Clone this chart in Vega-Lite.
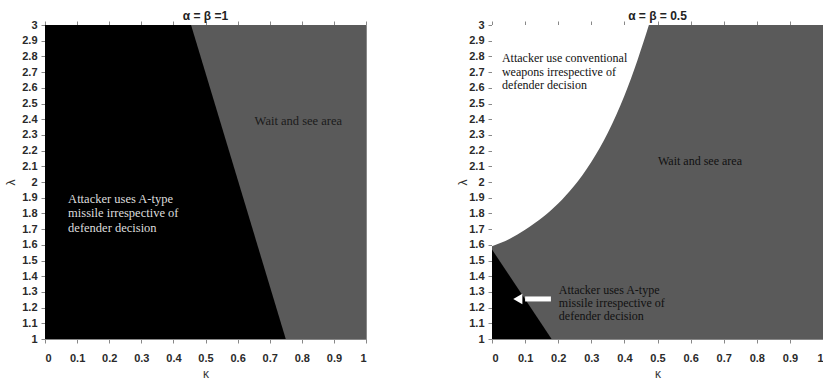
{
  "$schema": "https://vega.github.io/schema/vega-lite/v6.json",
  "background": "white",
  "padding": {"left": 4, "top": 9, "right": 0, "bottom": 0},
  "spacing": 89,
  "config": {
    "view": {"stroke": "#888", "strokeWidth": 1},
    "axis": {"labelFont": "Liberation Sans", "labelFontSize": 11, "labelFontWeight": "bold", "labelColor": "#2a2a2a", "titleFont": "Liberation Sans", "titleFontSize": 12, "titleFontWeight": "normal", "titleColor": "#333", "tickColor": "#888", "domainColor": "#888", "tickSize": 4, "grid": false, "format": "~g"},
    "title": {"font": "Liberation Sans", "fontSize": 12, "fontWeight": "bold", "color": "#222", "offset": -4}
  },
  "datasets": {
    "frame": [{"k0": 0, "k1": 1, "l0": 1, "l1": 3}],
    "leftBlack": [
      {"k": 0, "top": 3, "bot": 1},
      {"k": 0.455, "top": 3, "bot": 1},
      {"k": 0.75, "top": 1, "bot": 1}
    ],
    "rightWhite": [
      {"k": 0, "low": 1.59, "high": 3},
      {"k": 0.054, "low": 1.638, "high": 3},
      {"k": 0.1, "low": 1.696, "high": 3},
      {"k": 0.155, "low": 1.778, "high": 3},
      {"k": 0.2, "low": 1.863, "high": 3},
      {"k": 0.246, "low": 1.97, "high": 3},
      {"k": 0.3, "low": 2.128, "high": 3},
      {"k": 0.35, "low": 2.314, "high": 3},
      {"k": 0.4, "low": 2.549, "high": 3},
      {"k": 0.44, "low": 2.779, "high": 3},
      {"k": 0.474, "low": 3, "high": 3}
    ],
    "rightBlack": [
      {"k": 0, "top": 1.57, "bot": 1},
      {"k": 0.18, "top": 1, "bot": 1}
    ],
    "leftText": [
      {"k": 0.072, "l": 1.892, "t": "Attacker uses A-type", "c": "light"},
      {"k": 0.072, "l": 1.803, "t": "missile irrespective of", "c": "light"},
      {"k": 0.072, "l": 1.707, "t": "defender decision", "c": "light"},
      {"k": 0.653, "l": 2.39, "t": "Wait and see area", "c": "dark"}
    ],
    "rightText": [
      {"k": 0.03, "l": 2.788, "t": "Attacker use conventional"},
      {"k": 0.03, "l": 2.699, "t": "weapons irrespective of"},
      {"k": 0.03, "l": 2.618, "t": "defender decision"},
      {"k": 0.5015, "l": 2.134, "t": "Wait and see area"},
      {"k": 0.202, "l": 1.312, "t": "Attacker uses A-type"},
      {"k": 0.202, "l": 1.231, "t": "missile irrespective of"},
      {"k": 0.202, "l": 1.146, "t": "defender decision"}
    ],
    "arrow": [{"k0": 0.1, "k1": 0.178, "kh": 0.078, "l": 1.255}]
  },
  "hconcat": [
    {
      "width": 321,
      "height": 314,
      "title": "α = β =1",
      "resolve": {"axis": {"x": "independent", "y": "independent"}},
      "layer": [
        {
          "data": {"name": "frame"},
          "mark": {"type": "rect", "color": "#5a5a5a"},
          "encoding": {
            "x": {"field": "k0", "type": "quantitative", "scale": {"domain": [0, 1], "nice": false, "zero": false}, "axis": {"title": "κ", "values": [0, 0.1, 0.2, 0.3, 0.4, 0.5, 0.6, 0.7, 0.8, 0.9, 1], "labelPadding": 9, "titlePadding": 5}},
            "x2": {"field": "k1"},
            "y": {"field": "l0", "type": "quantitative", "scale": {"domain": [1, 3], "nice": false, "zero": false}, "axis": {"title": "λ", "values": [1, 1.1, 1.2, 1.3, 1.4, 1.5, 1.6, 1.7, 1.8, 1.9, 2, 2.1, 2.2, 2.3, 2.4, 2.5, 2.6, 2.7, 2.8, 2.9, 3], "labelPadding": 4, "titlePadding": 4}},
            "y2": {"field": "l1"}
          }
        },
        {
          "data": {"name": "frame"},
          "mark": {"type": "rect", "color": "#5a5a5a"},
          "encoding": {
            "x": {"field": "k0", "type": "quantitative", "axis": {"orient": "top", "title": null, "labels": false, "domain": false, "values": [0, 0.1, 0.2, 0.3, 0.4, 0.5, 0.6, 0.7, 0.8, 0.9, 1]}},
            "x2": {"field": "k1"},
            "y": {"field": "l0", "type": "quantitative", "axis": {"orient": "right", "title": null, "labels": false, "domain": false, "tickSize": -4, "values": [1, 1.1, 1.2, 1.3, 1.4, 1.5, 1.6, 1.7, 1.8, 1.9, 2, 2.1, 2.2, 2.3, 2.4, 2.5, 2.6, 2.7, 2.8, 2.9, 3]}},
            "y2": {"field": "l1"}
          }
        },
        {
          "data": {"name": "leftBlack"},
          "mark": {"type": "area", "color": "#000000", "orient": "vertical", "interpolate": "linear"},
          "encoding": {
            "x": {"field": "k", "type": "quantitative", "axis": null},
            "y": {"field": "top", "type": "quantitative", "axis": null},
            "y2": {"field": "bot"}
          }
        },
        {
          "data": {"name": "leftText"},
          "mark": {"type": "text", "font": "Liberation Serif", "fontSize": 12.5, "align": "left", "baseline": "middle"},
          "encoding": {
            "x": {"field": "k", "type": "quantitative", "axis": null},
            "y": {"field": "l", "type": "quantitative", "axis": null},
            "text": {"field": "t"},
            "color": {"field": "c", "type": "nominal", "scale": {"domain": ["light", "dark"], "range": ["#dddddd", "#1a1a1a"]}, "legend": null}
          }
        }
      ]
    },
    {
      "width": 331,
      "height": 314,
      "title": "α = β = 0.5",
      "resolve": {"axis": {"x": "independent", "y": "independent"}},
      "layer": [
        {
          "data": {"name": "frame"},
          "mark": {"type": "rect", "color": "#5a5a5a"},
          "encoding": {
            "x": {"field": "k0", "type": "quantitative", "scale": {"domain": [0, 1], "nice": false, "zero": false}, "axis": {"title": "κ", "values": [0, 0.1, 0.2, 0.3, 0.4, 0.5, 0.6, 0.7, 0.8, 0.9, 1], "labelPadding": 9, "titlePadding": 5}},
            "x2": {"field": "k1"},
            "y": {"field": "l0", "type": "quantitative", "scale": {"domain": [1, 3], "nice": false, "zero": false}, "axis": {"title": "λ", "values": [1, 1.1, 1.2, 1.3, 1.4, 1.5, 1.6, 1.7, 1.8, 1.9, 2, 2.1, 2.2, 2.3, 2.4, 2.5, 2.6, 2.7, 2.8, 2.9, 3], "labelPadding": 4, "titlePadding": -1}},
            "y2": {"field": "l1"}
          }
        },
        {
          "data": {"name": "frame"},
          "mark": {"type": "rect", "color": "#5a5a5a"},
          "encoding": {
            "x": {"field": "k0", "type": "quantitative", "axis": {"orient": "top", "title": null, "labels": false, "domain": false, "values": [0, 0.1, 0.2, 0.3, 0.4, 0.5, 0.6, 0.7, 0.8, 0.9, 1]}},
            "x2": {"field": "k1"},
            "y": {"field": "l0", "type": "quantitative", "axis": {"orient": "right", "title": null, "labels": false, "domain": false, "tickSize": -4, "values": [1, 1.1, 1.2, 1.3, 1.4, 1.5, 1.6, 1.7, 1.8, 1.9, 2, 2.1, 2.2, 2.3, 2.4, 2.5, 2.6, 2.7, 2.8, 2.9, 3]}},
            "y2": {"field": "l1"}
          }
        },
        {
          "data": {"name": "rightWhite"},
          "mark": {"type": "area", "color": "#ffffff", "orient": "vertical", "interpolate": "monotone"},
          "encoding": {
            "x": {"field": "k", "type": "quantitative", "axis": null},
            "y": {"field": "low", "type": "quantitative", "axis": null},
            "y2": {"field": "high"}
          }
        },
        {
          "data": {"name": "rightBlack"},
          "mark": {"type": "area", "color": "#000000", "orient": "vertical", "interpolate": "linear"},
          "encoding": {
            "x": {"field": "k", "type": "quantitative", "axis": null},
            "y": {"field": "top", "type": "quantitative", "axis": null},
            "y2": {"field": "bot"}
          }
        },
        {
          "data": {"name": "arrow"},
          "mark": {"type": "rule", "color": "#ffffff", "strokeWidth": 5},
          "encoding": {
            "x": {"field": "k0", "type": "quantitative", "axis": null},
            "x2": {"field": "k1"},
            "y": {"field": "l", "type": "quantitative", "axis": null}
          }
        },
        {
          "data": {"name": "arrow"},
          "mark": {"type": "point", "shape": "triangle-left", "filled": true, "color": "#ffffff", "opacity": 1, "size": 110},
          "encoding": {
            "x": {"field": "kh", "type": "quantitative", "axis": null},
            "y": {"field": "l", "type": "quantitative", "axis": null}
          }
        },
        {
          "data": {"name": "rightText"},
          "mark": {"type": "text", "font": "Liberation Serif", "fontSize": 12, "align": "left", "baseline": "middle", "color": "#111111"},
          "encoding": {
            "x": {"field": "k", "type": "quantitative", "axis": null},
            "y": {"field": "l", "type": "quantitative", "axis": null},
            "text": {"field": "t"}
          }
        }
      ]
    }
  ]
}
